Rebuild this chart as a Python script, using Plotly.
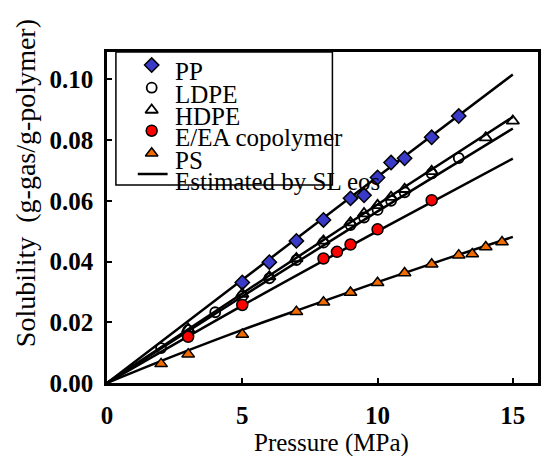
import plotly.graph_objects as go

# ---------------- data ----------------
pp_p = [5, 6, 7, 8, 9, 9.5, 10, 10.5, 11, 12, 13]
pp_s = [0.0331, 0.0398, 0.0468, 0.0537, 0.0608, 0.0618, 0.0677, 0.0726, 0.0740, 0.0809, 0.0879]

ldpe_p = [2, 3, 4, 5, 6, 7, 8, 9, 9.5, 10, 10.5, 11, 12, 13]
ldpe_s = [0.0115, 0.0174, 0.0233, 0.0286, 0.0345, 0.0405, 0.0462, 0.0520, 0.0545,
          0.0570, 0.0600, 0.0628, 0.0690, 0.0741]

hdpe_p = [3, 5, 6, 7, 8, 9, 9.5, 10, 10.5, 11, 12, 14, 15]
hdpe_s = [0.0178, 0.0293, 0.0350, 0.0410, 0.0468, 0.0528, 0.0558, 0.0585, 0.0612,
          0.0638, 0.0697, 0.0808, 0.0863]

eea_p = [3, 5, 8, 8.5, 9, 10, 12]
eea_s = [0.0152, 0.0257, 0.0410, 0.0432, 0.0456, 0.0506, 0.0602]

ps_p = [2, 3, 5, 7, 8, 9, 10, 11, 12, 13, 13.5, 14, 14.6]
ps_s = [0.0063, 0.0095, 0.0160, 0.0235, 0.0266, 0.0298, 0.0330, 0.0362, 0.0391,
        0.0421, 0.0425, 0.0448, 0.0464]

# SL eos estimated curves
sl_p = [0, 5, 10, 15]
sl_pp = [0, 0.0340, 0.0679, 0.1016]
sl_hdpe = [0, 0.0295, 0.0588, 0.0876]
sl_ldpe = [0, 0.0285, 0.0565, 0.0838]
sl_eea = [0, 0.0255, 0.0500, 0.0739]
sl_ps_p = [0, 2.5, 5, 7.5, 10, 12.5, 15]
sl_ps = [0, 0.0090, 0.0175, 0.0254, 0.0332, 0.0408, 0.0481]

x_ticks = [0, 5, 10, 15]
y_ticks = [0.00, 0.02, 0.04, 0.06, 0.08, 0.10]

legend_labels = ["PP", "LDPE", "HDPE", "E/EA copolymer", "PS", "Estimated by SL eos"]

FONT = "Liberation Serif, Times New Roman, serif"
BLUE = "#3a3ac8"
RED = "#ff0000"
ORANGE = "#f06c00"

fig = go.Figure()

# lines first
for xs, ys in [(sl_p, sl_pp), (sl_p, sl_hdpe), (sl_p, sl_ldpe), (sl_p, sl_eea), (sl_ps_p, sl_ps)]:
    fig.add_trace(go.Scatter(x=xs, y=ys, mode="lines", line=dict(color="black", width=2.5),
                             line_shape="spline", showlegend=False, hoverinfo="skip"))

mk_line = dict(color="black", width=1.5)
series = [
    (pp_p, pp_s, dict(symbol="diamond", size=11, color=BLUE, line=mk_line)),
    (ldpe_p, ldpe_s, dict(symbol="circle-open", size=10, color="black", line=dict(color="black", width=1.8))),
    (hdpe_p, hdpe_s, dict(symbol="triangle-up-open", size=11, color="black", line=dict(color="black", width=1.8))),
    (eea_p, eea_s, dict(symbol="circle", size=11, color=RED, line=mk_line)),
    (ps_p, ps_s, dict(symbol="triangle-up", size=11, color=ORANGE, line=mk_line)),
]
for xs, ys, m in series:
    fig.add_trace(go.Scatter(x=xs, y=ys, mode="markers", marker=m, showlegend=False))

# ---------------- manual legend ----------------
leg_x = 0.1037
leg_marker_y = [0.9607, 0.8921, 0.8248, 0.7622, 0.694]
for (xs, ys, m), ly in zip(series, leg_marker_y):
    fig.add_trace(go.Scatter(x=[leg_x], y=[ly], xaxis="x2", yaxis="y2", mode="markers",
                             marker=m, showlegend=False, hoverinfo="skip"))
fig.add_trace(go.Scatter(x=[0.0714, 0.1406], y=[0.6314, 0.6314], xaxis="x2", yaxis="y2",
                         mode="lines", line=dict(color="black", width=2.5),
                         showlegend=False, hoverinfo="skip"))

text_y = [0.9405, 0.8701, 0.8066, 0.7402, 0.6737, 0.6082]
annotations = []
for lab, ty in zip(legend_labels, text_y):
    annotations.append(dict(x=0.152, y=ty, xref="paper", yref="paper", text=lab,
                            showarrow=False, xanchor="left", yanchor="middle",
                            font=dict(family=FONT, size=25, color="black")))

annotations.append(dict(x=0.5207, y=-0.18, xref="paper", yref="paper", text="Pressure (MPa)",
                        showarrow=False, xanchor="center", yanchor="middle",
                        font=dict(family=FONT, size=25, color="black")))
annotations.append(dict(x=-0.19, y=0.604, xref="paper", yref="paper",
                        text="Solubility \u00a0(g-gas/g-polymer)", textangle=-90,
                        showarrow=False, xanchor="center", yanchor="middle",
                        font=dict(family=FONT, size=28, color="black")))

shapes = [dict(type="rect", xref="paper", yref="paper", x0=0.0207, x1=0.523, y0=0.598, y1=1.0,
               line=dict(color="black", width=1.5), fillcolor="rgba(0,0,0,0)", layer="above")]

fig.update_layout(
    width=551, height=456,
    margin=dict(l=107, r=10, t=52, b=73),
    paper_bgcolor="white", plot_bgcolor="white",
    showlegend=False,
    font=dict(family=FONT, color="black"),
    xaxis=dict(range=[0, 15.93], tickvals=x_ticks, ticktext=[str(v) for v in x_ticks],
               ticks="inside", ticklen=5, tickwidth=1.5, tickcolor="black",
               showline=True, linecolor="black", linewidth=2.5, mirror=True,
               showgrid=False, zeroline=False,
               tickfont=dict(family=FONT, size=25, color="black", weight="bold"),
               ticklabelstandoff=8),
    yaxis=dict(range=[0, 0.109], tickvals=y_ticks, ticktext=[f"{v:.2f}" for v in y_ticks],
               ticks="inside", ticklen=5, tickwidth=1.5, tickcolor="black",
               showline=True, linecolor="black", linewidth=2.5, mirror=True,
               showgrid=False, zeroline=False,
               tickfont=dict(family=FONT, size=25, color="black", weight="bold"),
               ticklabelstandoff=6),
    xaxis2=dict(range=[0, 1], overlaying="x", visible=False, fixedrange=True),
    yaxis2=dict(range=[0, 1], overlaying="y", visible=False, fixedrange=True),
    annotations=annotations,
    shapes=shapes,
)

fig.write_html("out.html")
